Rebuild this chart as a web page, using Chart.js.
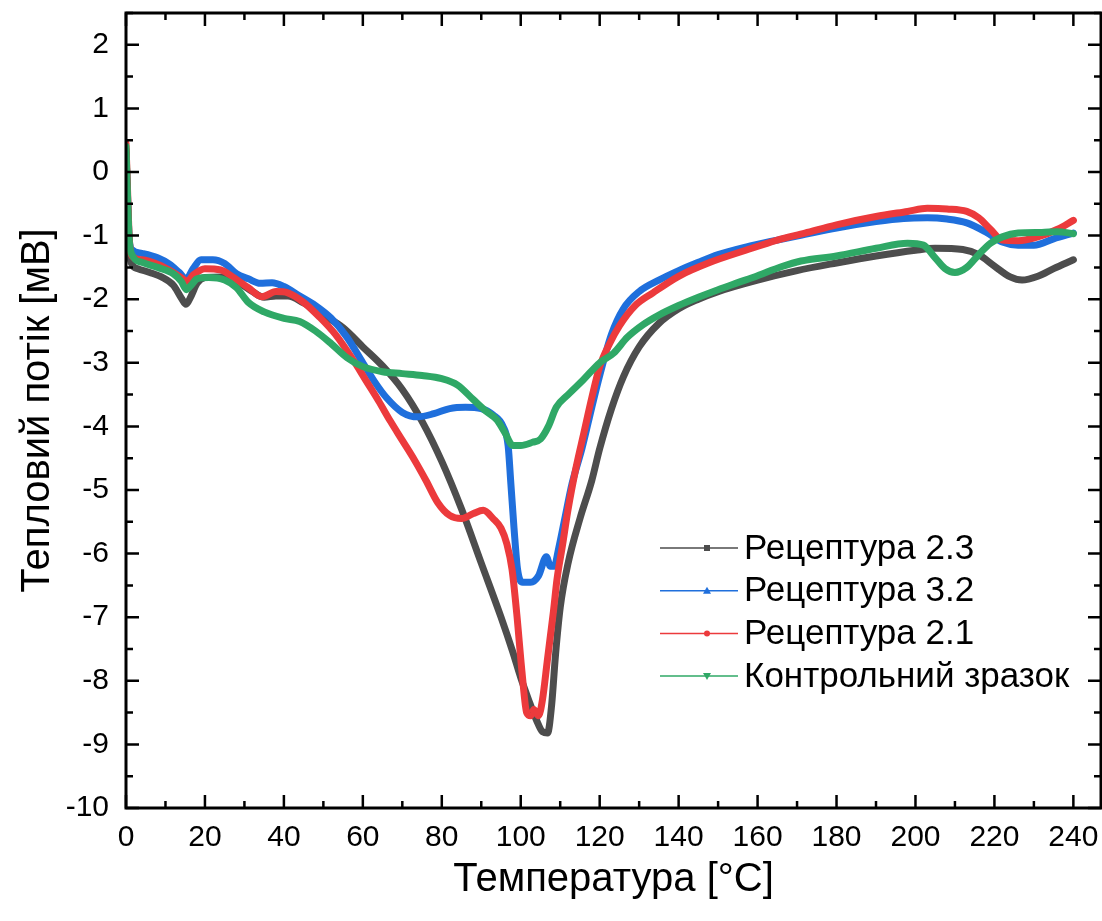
<!DOCTYPE html>
<html>
<head>
<meta charset="utf-8">
<script src="https://cdn.jsdelivr.net/npm/chart.js@4.4.1/dist/chart.umd.min.js"></script>
<style>
  html, body { margin: 0; padding: 0; background: #fff; }
  #wrap { width: 1102px; height: 921px; }
</style>
</head>
<body>
<div id="wrap"><canvas id="dsc"></canvas></div>
<script>
// tick labels
const xTicks = [0, 20, 40, 60, 80, 100, 120, 140, 160, 180, 200, 220, 240];
const yTicks = [-10, -9, -8, -7, -6, -5, -4, -3, -2, -1, 0, 1, 2];

// Рецептура 2.3
const r23T = [0, 0.4, 0.8, 1.5, 3, 6, 9, 12, 14, 15.2, 16.5, 18, 20, 24, 28, 32, 35, 38, 41, 45, 50, 55, 60, 65, 70, 75, 80, 85, 90, 95, 98, 100, 102, 104, 105.5, 106.8, 107.8, 108.8, 110, 112, 115, 118, 120, 123, 126, 130, 135, 140, 145, 150, 160, 170, 180, 190, 200, 205, 212, 216, 220, 224, 227, 231, 235, 240];
const r23V = [0.35, -0.5, -1.2, -1.45, -1.52, -1.58, -1.65, -1.78, -1.98, -2.08, -1.95, -1.75, -1.66, -1.65, -1.72, -1.88, -1.97, -1.95, -1.95, -2.06, -2.25, -2.45, -2.75, -3.05, -3.42, -3.92, -4.55, -5.3, -6.15, -7.0, -7.55, -7.95, -8.3, -8.62, -8.8, -8.82, -8.4, -7.6, -6.85, -6.15, -5.45, -4.85, -4.35, -3.72, -3.22, -2.75, -2.38, -2.15, -2.0, -1.88, -1.7, -1.55, -1.43, -1.32, -1.23, -1.2, -1.22, -1.3, -1.48, -1.65, -1.7, -1.64, -1.52, -1.38];

// Рецептура 3.2
const r32T = [0, 0.4, 0.8, 1.5, 4, 8, 11, 13.5, 15.3, 17, 19, 22, 25, 28, 31, 34, 37, 40, 44, 48, 52, 56, 60, 63, 66, 70, 74, 78, 82, 86, 90, 93, 95.5, 96.8, 97.5, 98.3, 99.2, 100.5, 102.5, 104.5, 106.5, 107.5, 108.5, 109.5, 111, 113, 115.5, 118, 120, 123, 126, 130, 135, 140, 145, 150, 157, 165, 172, 180, 190, 197, 203, 208, 213, 218, 222, 226, 230, 235, 240];
const r32V = [0.3, -0.4, -1.05, -1.22, -1.28, -1.35, -1.45, -1.58, -1.68, -1.52, -1.38, -1.38, -1.44, -1.6, -1.68, -1.75, -1.74, -1.8, -1.95, -2.1, -2.3, -2.6, -3.0, -3.3, -3.55, -3.78, -3.85, -3.8, -3.72, -3.7, -3.72, -3.82, -4.0, -4.3, -4.9, -5.6, -6.25, -6.45, -6.45, -6.35, -6.05, -6.2, -6.2, -5.95, -5.5, -4.9, -4.35, -3.7, -3.2, -2.55, -2.15, -1.88, -1.7, -1.55, -1.42, -1.3, -1.18, -1.07, -0.98, -0.88, -0.78, -0.73, -0.72, -0.74, -0.8, -0.95, -1.1, -1.15, -1.15, -1.05, -0.96];

// Рецептура 2.1
const r21T = [0, 0.4, 0.8, 1.5, 4, 8, 12, 14, 15.5, 17, 20, 24, 27, 31, 34.5, 38, 41, 45, 49, 53, 57.5, 61, 64, 67, 70, 73, 76, 79, 82, 85, 88, 90.5, 93, 95, 96.5, 97.8, 99, 100.3, 101.5, 102.5, 103.3, 104.5, 105.5, 106.7, 107.5, 108.3, 109.2, 110.5, 112, 114, 116, 118, 120, 122.5, 125, 129, 133.5, 140, 148, 157, 165, 172, 180, 190, 198, 203, 208, 213, 216, 219, 222, 226, 231, 236, 240];
const r21V = [0.45, -0.3, -1.0, -1.32, -1.38, -1.45, -1.58, -1.66, -1.72, -1.62, -1.52, -1.54, -1.65, -1.82, -1.96, -1.88, -1.9, -2.05, -2.28, -2.55, -2.95, -3.3, -3.6, -3.92, -4.22, -4.52, -4.85, -5.2, -5.4, -5.45, -5.37, -5.32, -5.45, -5.6, -5.85, -6.25, -6.95, -7.85, -8.5, -8.55, -8.45, -8.55, -8.3, -7.7, -7.3, -6.9, -6.4, -5.9, -5.3, -4.65, -4.1, -3.55, -3.06, -2.7, -2.42, -2.1, -1.9, -1.64, -1.42, -1.23, -1.07, -0.96, -0.83, -0.7, -0.62, -0.57, -0.58, -0.62, -0.72, -0.9, -1.07, -1.08, -1.02, -0.9, -0.76];

// Контрольний зразок
const ctrlT = [0, 0.4, 0.8, 1.5, 4, 8, 12, 14, 15.3, 16.5, 18, 21, 25, 28, 31, 35, 40, 44, 48, 52, 56, 60, 65, 70, 75, 80, 84, 88, 91, 94, 96, 98, 100, 103, 105, 107, 109, 112, 115.8, 120, 123.5, 127, 131, 135, 140, 145, 150, 155, 160, 166, 171, 180, 190, 198, 202, 205, 207.5, 210, 213, 216, 219, 222, 226, 232, 236, 240];
const ctrlV = [0.4, -0.4, -1.05, -1.3, -1.42, -1.5, -1.6, -1.72, -1.85, -1.78, -1.68, -1.66, -1.7, -1.82, -2.05, -2.2, -2.3, -2.35, -2.5, -2.7, -2.92, -3.06, -3.14, -3.17, -3.2, -3.25, -3.35, -3.58, -3.75, -3.9, -4.1, -4.3, -4.3, -4.25, -4.2, -4.0, -3.7, -3.5, -3.27, -3.0, -2.85, -2.6, -2.4, -2.25, -2.1, -1.97, -1.85, -1.74, -1.63, -1.49, -1.4, -1.32, -1.2, -1.12, -1.15, -1.35, -1.52, -1.58, -1.5, -1.3, -1.12, -1.02, -0.96, -0.95, -0.94, -0.97];

const seriesNames = ['Рецептура 2.3', 'Рецептура 3.2', 'Рецептура 2.1', 'Контрольний зразок'];
const seriesColors = ['#4d4d4d', '#1f6fdc', '#ec3a3c', '#2fa866'];
const seriesMarkers = ['rect', 'triangle', 'circle', 'triangleDown'];

const toPoints = (t, v) => t.map((x, i) => ({ x: x, y: v[i] }));

const FONT = "'Liberation Sans', Arial, sans-serif";

const frameTicks = {
    id: 'frameTicks',
    afterDraw(chart) {
        const { ctx, chartArea: a, scales: { x, y } } = chart;
        ctx.save();
        ctx.strokeStyle = '#000';
        ctx.lineWidth = 3;
        ctx.strokeRect(a.left, a.top, a.right - a.left, a.bottom - a.top);
        ctx.lineWidth = 2.5;
        ctx.beginPath();
        for (let v = 0; v <= x.max; v += 10) {
            const px = x.getPixelForValue(v);
            const len = v % 20 === 0 ? 13 : 7;
            ctx.moveTo(px, a.bottom); ctx.lineTo(px, a.bottom - len);
            ctx.moveTo(px, a.top); ctx.lineTo(px, a.top + len);
        }
        for (let v = y.min; v <= y.max + 1e-6; v += 0.5) {
            const py = y.getPixelForValue(v);
            const len = Number.isInteger(v) ? 13 : 7;
            ctx.moveTo(a.left, py); ctx.lineTo(a.left + len, py);
            ctx.moveTo(a.right, py); ctx.lineTo(a.right - len, py);
        }
        ctx.stroke();

        // legend
        const x0 = 660, x1 = 738, tx = 744;
        let ly = 548;
        ctx.font = '35px ' + FONT;
        ctx.textBaseline = 'middle';
        seriesNames.forEach((name, i) => {
            ctx.strokeStyle = seriesColors[i];
            ctx.lineWidth = 1.5;
            ctx.beginPath();
            ctx.moveTo(x0, ly); ctx.lineTo(x1, ly);
            ctx.stroke();
            ctx.fillStyle = seriesColors[i];
            const cx = (x0 + x1) / 2 + 8;
            ctx.beginPath();
            if (seriesMarkers[i] === 'rect') ctx.rect(cx - 3, ly - 3, 6, 6);
            else if (seriesMarkers[i] === 'circle') ctx.arc(cx, ly, 3, 0, Math.PI * 2);
            else if (seriesMarkers[i] === 'triangle') { ctx.moveTo(cx, ly - 4); ctx.lineTo(cx + 4, ly + 3); ctx.lineTo(cx - 4, ly + 3); }
            else { ctx.moveTo(cx, ly + 4); ctx.lineTo(cx + 4, ly - 3); ctx.lineTo(cx - 4, ly - 3); }
            ctx.fill();
            ctx.fillStyle = '#000';
            ctx.fillText(name, tx, ly + 1);
            ly += 42.7;
        });
        ctx.restore();
    }
};

new Chart(document.getElementById('dsc'), {
    type: 'line',
    data: {
        datasets: [
            { label: seriesNames[0], data: toPoints(r23T, r23V), order: 4 },
            { label: seriesNames[1], data: toPoints(r32T, r32V), order: 3 },
            { label: seriesNames[2], data: toPoints(r21T, r21V), order: 2 },
            { label: seriesNames[3], data: toPoints(ctrlT, ctrlV), order: 1 }
        ].map((d, i) => ({
            ...d,
            borderColor: seriesColors[i],
            backgroundColor: seriesColors[i],
            borderWidth: 7,
            pointRadius: 0,
            cubicInterpolationMode: 'monotone',
            borderJoinStyle: 'round',
            borderCapStyle: 'round',
            fill: false
        }))
    },
    options: {
        responsive: true,
        maintainAspectRatio: false,
        animation: false,
        layout: { padding: { left: 0, right: 1, top: 13, bottom: 0 } },
        plugins: {
            legend: { display: false },
            tooltip: { enabled: false }
        },
        scales: {
            x: {
                type: 'linear',
                min: 0,
                max: 247,
                afterBuildTicks: s => { s.ticks = xTicks.map(v => ({ value: v })); },
                afterFit: s => { s.height = 113; s.paddingLeft = 0; s.paddingRight = 0; },
                grid: { display: false, drawTicks: false },
                border: { display: false },
                ticks: { color: '#000', font: { family: FONT, size: 30 }, padding: 12, maxRotation: 0 },
                title: {
                    display: true,
                    text: 'Температура [°C]',
                    color: '#000',
                    font: { family: FONT, size: 40 },
                    padding: { top: 0, bottom: 17 }
                }
            },
            y: {
                type: 'linear',
                min: -10,
                max: 2.5,
                afterBuildTicks: s => { s.ticks = yTicks.map(v => ({ value: v })); },
                afterFit: s => { s.width = 126; s.paddingTop = 0; s.paddingBottom = 0; },
                grid: { display: false, drawTicks: false },
                border: { display: false },
                ticks: { color: '#000', font: { family: FONT, size: 30 }, padding: 17 },
                title: {
                    display: true,
                    text: 'Тепловий потік [мВ]',
                    color: '#000',
                    font: { family: FONT, size: 40 },
                    padding: { top: 14, bottom: 0 }
                }
            }
        }
    },
    plugins: [frameTicks]
});
</script>
</body>
</html>
